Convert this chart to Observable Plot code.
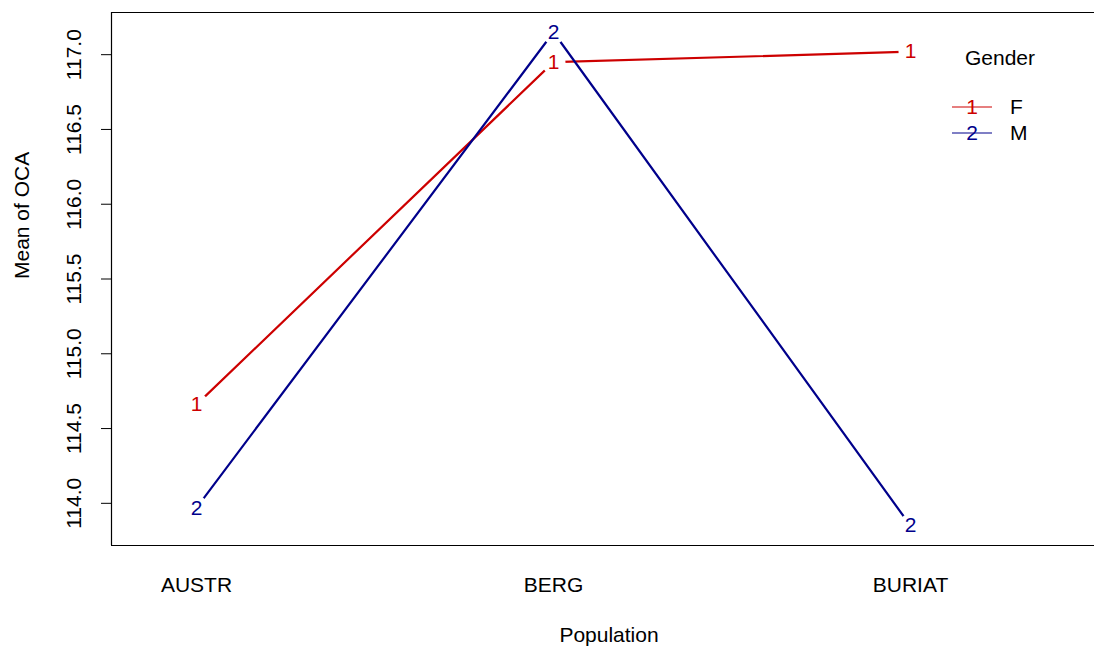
<!DOCTYPE html>
<html><head><meta charset="utf-8">
<script src="https://cdn.jsdelivr.net/npm/d3@7"></script>
<script src="https://cdn.jsdelivr.net/npm/@observablehq/plot@0.6"></script>
<style>
html,body{margin:0;padding:0;background:#fff;overflow:hidden;}
#wrap{position:relative;width:1094px;height:650px;overflow:hidden;font-family:"Liberation Sans",Arial,sans-serif;}
#wrap svg{max-width:none !important;}
#wrap svg.overlay{position:absolute;left:0;top:0;pointer-events:none;}
</style></head><body><div id="wrap"></div>
<script>
// ---- data ----
const populations = ["AUSTR", "BERG", "BURIAT"];
const genders = ["F", "M"];
const genderSymbols = ["1", "2"];
const genderColors = ["#CD0000", "#00008B"];
const meanF = [114.66, 116.95, 117.02];
const meanM = [113.97, 117.15, 113.85];
const yTicks = [114.0, 114.5, 115.0, 115.5, 116.0, 116.5, 117.0];
const xTitle = "Population";
const yTitle = "Mean of OCA";
const legendTitle = "Gender";

const seriesValues = [meanF, meanM];
const data = [];
genders.forEach((g, gi) => {
  populations.forEach((p, i) => {
    data.push({pop: p, idx: i + 1, gender: g, symbol: genderSymbols[gi], value: seriesValues[gi][i]});
  });
});

const xDomain = [0.762, 3.549];
const yDomain = [113.718, 117.282];
const font = "Liberation Sans, Arial, sans-serif";
const fs = 21;

const chart = Plot.plot({
  width: 1094, height: 650,
  marginLeft: 111, marginRight: -12, marginTop: 12, marginBottom: 105,
  style: {fontFamily: font, fontSize: fs + "px", background: "#fff", color: "#000", overflow: "hidden", maxWidth: "none"},
  x: {type: "linear", domain: xDomain},
  y: {domain: yDomain},
  color: {domain: genders, range: genderColors},
  marks: [
    // box: left, top, bottom (the right side lies outside the window)
    Plot.ruleX([xDomain[0]], {stroke: "#000", strokeWidth: 1.2}),
    Plot.ruleY(yDomain, {stroke: "#000", strokeWidth: 1.2}),
    Plot.axisY({ticks: yTicks, tickFormat: d => d.toFixed(1), tickSize: 10, tickPadding: 21, tickRotate: -90, fontSize: fs, label: null}),
    Plot.axisX({ticks: [1, 2, 3], tickFormat: i => populations[i - 1], tickSize: 0, tickPadding: 32, fontSize: fs, label: null}),
    Plot.line(data, {x: "idx", y: "value", z: "gender", stroke: "gender", strokeWidth: 2.2}),
    Plot.dot(data, {x: "idx", y: "value", r: 12, fill: "white", stroke: null}),
    Plot.text(data, {x: "idx", y: "value", text: "symbol", fill: "gender", fontSize: fs}),
    Plot.text([xTitle], {text: d => d, frameAnchor: "bottom", dy: 96, fontSize: fs}),
    Plot.text([yTitle], {text: d => d, frameAnchor: "left", rotate: -90, dx: -89.5, fontSize: fs})
  ]
});
const wrap = document.getElementById("wrap");
wrap.appendChild(chart);

// ---- legend overlay ----
const svg = d3.select(wrap).append("svg").attr("class", "overlay")
  .attr("width", 1094).attr("height", 650)
  .style("font-family", font).style("font-size", fs + "px");
svg.append("text").attr("x", 1000).attr("y", 58).attr("dy", "0.35em")
  .attr("text-anchor", "middle").attr("fill", "#000").text(legendTitle);
genders.forEach((g, i) => {
  const y = 107 + i * 26;
  svg.append("line").attr("x1", 952).attr("x2", 992).attr("y1", y).attr("y2", y)
    .attr("stroke", genderColors[i]).attr("stroke-width", 1.2);
  svg.append("text").attr("x", 972).attr("y", y).attr("dy", "0.35em")
    .attr("text-anchor", "middle").attr("fill", genderColors[i]).text(genderSymbols[i]);
  svg.append("text").attr("x", 1010).attr("y", y).attr("dy", "0.35em")
    .attr("fill", "#000").text(g);
});
</script></body></html>
